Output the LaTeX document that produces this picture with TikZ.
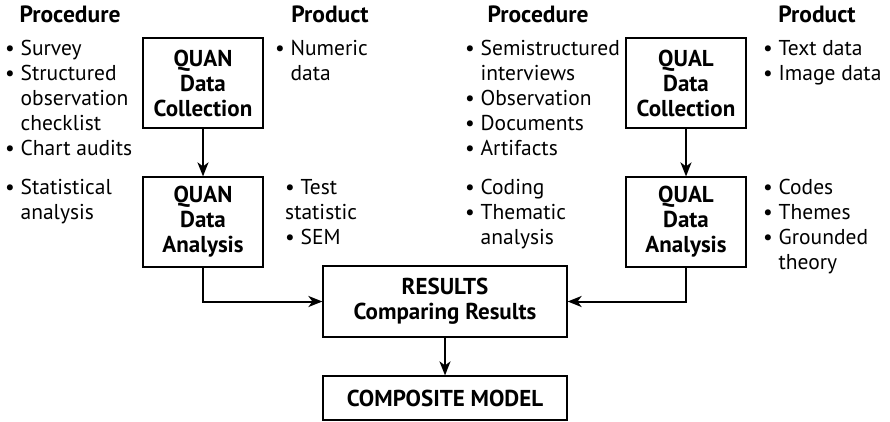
\documentclass[tikz,border=0pt]{standalone}
\usepackage{fontspec}
\setmainfont{PT Sans}
\usetikzlibrary{arrows.meta}
\tikzset{box/.style={draw,line width=1.2pt,minimum width=120pt,minimum height=90pt,
  align=center,inner sep=0pt,font=\fontsize{23}{25}\selectfont\bfseries},
  list/.style={anchor=base west,align=left,inner sep=0pt,font=\fontsize{21.5}{25}\selectfont},
  head/.style={anchor=base,inner sep=0pt,font=\fontsize{23.5}{25}\selectfont\bfseries},
  flow/.style={line width=2pt,-{Stealth[length=14pt,width=11pt,inset=4pt]}}}
\newcommand{\bl}{\textbullet\ }
\newcommand{\ind}{\hphantom{\textbullet\ }}
\begin{document}
\begin{tikzpicture}[x=1pt,y=-1pt]
\useasboundingbox (0,0) rectangle (890,421);
% column heads
\node[head] (h1) at (70,22) {Procedure};
\node[head] (h2) at (330,22) {Product};
\node[head] (h3) at (538,22) {Procedure};
\node[head] (h4) at (817,22) {Product};
% boxes
\node[box] (qncoll) at (203,83) {QUAN\\Data\\Collection};
\node[box] (qnana) at (203,222) {QUAN\\Data\\Analysis};
\node[box] (qlcoll) at (686,83) {QUAL\\Data\\Collection};
\node[box] (qlana) at (686,222) {QUAL\\Data\\Analysis};
\node[box,minimum width=244pt,minimum height=71pt] (results) at (445,301.5) {RESULTS\\Comparing Results};
\node[box,minimum width=244pt,minimum height=44pt] (model) at (445,398) {COMPOSITE MODEL};
% lists (placed at the baseline of their last line)
\node[list] (qnproc) at (5,155) {\bl Survey\\\bl Structured\\\ind observation\\\ind checklist\\\bl Chart audits};
\node[list] (qnanproc) at (5,219) {\bl Statistical\\\ind analysis};
\node[list] (qnprod) at (275,80) {\bl Numeric\\\ind data};
\node[list] (qnanprod) at (285,244) {\bl Test\\statistic\\\bl SEM};
\node[list] (qlproc) at (465,155) {\bl Semistructured\\\ind interviews\\\bl Observation\\\bl Documents\\\bl Artifacts};
\node[list] (qlanproc) at (465,244) {\bl Coding\\\bl Thematic\\\ind analysis};
\node[list] (qlprod) at (763,80) {\bl Text data\\\bl Image data};
\node[list] (qlanprod) at (763,269) {\bl Codes\\\bl Themes\\\bl Grounded\\\ind theory};
% connectors
\draw[flow] (qncoll) -- (qnana);
\draw[flow] (qlcoll) -- (qlana);
\draw[flow] (qnana.south) |- (results.west);
\draw[flow] (qlana.south) |- (results.east);
\draw[flow] (results) -- (model);
\end{tikzpicture}
\end{document}
